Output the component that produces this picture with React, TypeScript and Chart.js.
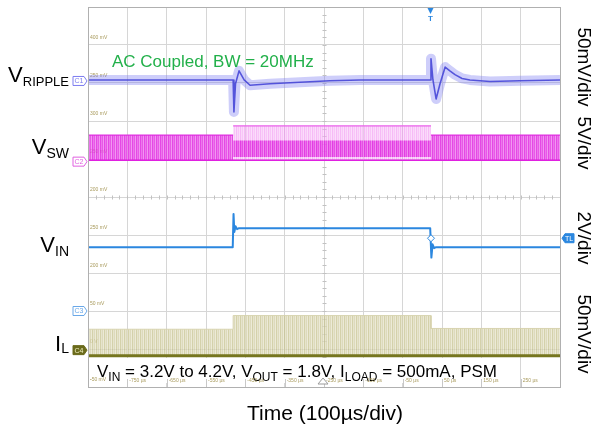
import React, { useEffect, useRef } from "react";
import { Chart, registerables } from "chart.js";

Chart.register(...registerables);

// ---------------- data ----------------
// time axis: 100 µs/div, 12 divisions
const timeGridUs = [-850, -750, -650, -550, -450, -350, -250, -150, -50, 50, 150, 250, 350];
const timeTickLabels = ["-750 µs", "-650 µs", "-550 µs", "-450 µs", "-350 µs", "-250 µs", "-150 µs", "-50 µs", "50 µs", "150 µs", "250 µs"];
// scope level read-outs, for divisions 9 .. 0
const levelTickLabels = ["400 mV", "250 mV", "300 mV", "250 mV", "200 mV", "250 mV", "200 mV", "50 mV", "0 V", "-50 mV"];

// V_RIPPLE (mV, AC coupled)
const rippleTimeUs = [-850, -489, -481, -479, -475, -466, -453, -438, -387, -311, -235, -158, 20, 22, 27, 35, 45, 58, 70, 83, 101, 121, 172, 248, 350];
const rippleMv = [0, 0, 0, -42, -5, 12, 0, -7, -5, -3, -1, 0, 0, 28, 0, -25, -5, 17, 12, 7, 2, 0, -2, -1, 0];

// V_SW switching envelope (V)
const swTimeUs = [-850, -481, -481, 22, 22, 350];
const swHighV = [3.3, 3.3, 4.5, 4.5, 3.3, 3.3];
const swLowV = [0, 0, 0, 0, 0, 0];
// denser core of the switching band during the 4.2 V section
const swCoreTimeUs = [-481, 22];
const swCoreHighV = [2.6, 2.6];

// V_IN (V)
const vinTimeUs = [-850, -482, -480, -478, -475, -471, -466, 20, 23, 26, 30, 35, 350];
const vinV = [3.2, 3.2, 4.95, 4.0, 4.3, 4.15, 4.2, 4.2, 2.65, 3.35, 3.15, 3.2, 3.2];

// trigger level
const trigTimeUs = [22];
const trigLevelV = [3.67];

// I_L envelope (mV on probe)
const ilTimeUs = [-850, -481, -481, 22, 22, 350];
const ilPeakMv = [35, 35, 53, 53, 36, 36];
const ilFloorMv = [0, 0, 0, 0, 0, 0];

// ---------------- channel scaling (style) ----------------
const CH = {
  ripple: { zeroDiv: 8.08, perDiv: 50 },
  sw: { zeroDiv: 5.97, perDiv: 5 },
  vin: { zeroDiv: 2.08, perDiv: 2 },
  il: { zeroDiv: 0.82, perDiv: 50 },
};

const FONT = '"Liberation Sans", Arial, Helvetica, sans-serif';

type Ch = { zeroDiv: number; perDiv: number };
const pts = (ts: number[], vs: number[], ch: Ch, from = 0, to = ts.length - 1) => {
  const out: { x: number; y: number }[] = [];
  for (let i = from; i <= to; i++) out.push({ x: ts[i], y: ch.zeroDiv + vs[i] / ch.perDiv });
  return out;
};

function stripePattern(colors: string[]): CanvasPattern | string {
  const c = document.createElement("canvas");
  c.width = colors.length;
  c.height = 4;
  const g = c.getContext("2d");
  if (!g) return colors[0];
  colors.forEach((col, i) => {
    g.fillStyle = col;
    g.fillRect(i, 0, 1, 4);
  });
  return g.createPattern(c, "repeat") || colors[0];
}

type Part = [string, boolean];
function drawParts(ctx: CanvasRenderingContext2D, parts: Part[], x: number, y: number, mainPx: number, subPx: number, subDy: number, align: "left" | "right") {
  const fm = `${mainPx}px ${FONT}`;
  const fs = `${subPx}px ${FONT}`;
  let total = 0;
  for (const [t, s] of parts) {
    ctx.font = s ? fs : fm;
    total += ctx.measureText(t).width;
  }
  let cx = align === "right" ? x - total : x;
  ctx.textAlign = "left";
  ctx.textBaseline = "alphabetic";
  for (const [t, s] of parts) {
    ctx.font = s ? fs : fm;
    ctx.fillText(t, cx, s ? y + subDy : y);
    cx += ctx.measureText(t).width;
  }
}

function tag(ctx: CanvasRenderingContext2D, x0: number, yc: number, w: number, h: number, pointRight: boolean, stroke: string, fill: string, text: string, textColor: string) {
  ctx.beginPath();
  if (pointRight) {
    ctx.moveTo(x0, yc - h / 2);
    ctx.lineTo(x0 + w - 3, yc - h / 2);
    ctx.lineTo(x0 + w, yc);
    ctx.lineTo(x0 + w - 3, yc + h / 2);
    ctx.lineTo(x0, yc + h / 2);
  } else {
    ctx.moveTo(x0 + w, yc - h / 2);
    ctx.lineTo(x0 + 3, yc - h / 2);
    ctx.lineTo(x0, yc);
    ctx.lineTo(x0 + 3, yc + h / 2);
    ctx.lineTo(x0 + w, yc + h / 2);
  }
  ctx.closePath();
  ctx.fillStyle = fill;
  ctx.fill();
  ctx.strokeStyle = stroke;
  ctx.lineWidth = 1;
  ctx.stroke();
  ctx.fillStyle = textColor;
  ctx.font = `7px ${FONT}`;
  ctx.textAlign = "center";
  ctx.textBaseline = "middle";
  ctx.fillText(text, x0 + w / 2 - (pointRight ? 1 : -1), yc + 0.5);
}

const scopeDeco = {
  id: "scopeDeco",
  beforeDatasetsDraw(chart: any) {
    const { ctx, chartArea: a, scales } = chart;
    const x = scales.x;
    const y = scales.y;
    ctx.save();
    // minor ticks on the centre lines
    ctx.strokeStyle = "#c2c2c2";
    ctx.lineWidth = 1;
    const cy = Math.round(y.getPixelForValue(5)) + 0.5;
    const cx = Math.round(x.getPixelForValue(-250)) + 0.5;
    for (let t = -850; t <= 350; t += 20) {
      const px = Math.round(x.getPixelForValue(t)) + 0.5;
      ctx.beginPath();
      ctx.moveTo(px, cy - 2);
      ctx.lineTo(px, cy + 2);
      ctx.stroke();
    }
    for (let k = 0; k <= 50; k++) {
      const py = Math.round(y.getPixelForValue(k / 5)) + 0.5;
      ctx.beginPath();
      ctx.moveTo(cx - 2, py);
      ctx.lineTo(cx + 2, py);
      ctx.stroke();
    }
    // tiny level read-outs
    ctx.font = `5px ${FONT}`;
    ctx.fillStyle = "#a89a5c";
    ctx.textAlign = "left";
    ctx.textBaseline = "middle";
    levelTickLabels.forEach((s, i) => {
      ctx.fillText(s, a.left + 2, y.getPixelForValue(9 - i + 0.2));
    });
    ctx.restore();
  },
  afterDatasetsDraw(chart: any) {
    const { ctx, chartArea: a, scales } = chart;
    const x = scales.x;
    const y = scales.y;
    ctx.save();
    // plot frame
    ctx.strokeStyle = "#b0b0b0";
    ctx.lineWidth = 1;
    ctx.strokeRect(Math.round(a.left) + 0.5, Math.round(a.top) + 0.5, Math.round(a.right - a.left), Math.round(a.bottom - a.top));

    // AC coupled note
    ctx.fillStyle = "#22b04a";
    ctx.font = `17px ${FONT}`;
    ctx.textAlign = "left";
    ctx.textBaseline = "alphabetic";
    ctx.fillText("AC Coupled, BW = 20MHz", 112, 67);

    // conditions note with white backing
    ctx.fillStyle = "#ffffff";
    ctx.fillRect(92, 358, 410, 25);
    ctx.fillStyle = "#000000";
    drawParts(
      ctx,
      [
        ["V", false], ["IN", true], [" = 3.2V to 4.2V, V", false], ["OUT", true],
        [" = 1.8V, I", false], ["LOAD", true], [" = 500mA, PSM", false],
      ],
      97, 377, 17, 12, 4, "left"
    );

    // tiny time read-outs
    ctx.font = `5px ${FONT}`;
    ctx.fillStyle = "#a89a5c";
    ctx.textAlign = "left";
    ctx.textBaseline = "middle";
    levelTickLabels.slice(-1).forEach((s) => ctx.fillText(s, a.left + 2, y.getPixelForValue(0.2)));
    timeTickLabels.forEach((s, i) => {
      ctx.fillText(s, x.getPixelForValue(timeGridUs[i + 1]) + 2, a.bottom - 6);
    });
    ctx.strokeStyle = "#c8c8c8";
    timeTickLabels.forEach((_, i) => {
      const px = Math.round(x.getPixelForValue(timeGridUs[i + 1])) + 0.5;
      ctx.beginPath();
      ctx.moveTo(px, a.bottom - 8);
      ctx.lineTo(px, a.bottom);
      ctx.stroke();
    });

    // time reference marker (bottom centre)
    ctx.strokeStyle = "#9a9a9a";
    ctx.fillStyle = "#ffffff";
    const tx = x.getPixelForValue(-250) - 1;
    ctx.beginPath();
    ctx.moveTo(tx - 5, a.bottom - 3);
    ctx.lineTo(tx, a.bottom - 9);
    ctx.lineTo(tx + 5, a.bottom - 3);
    ctx.closePath();
    ctx.fill();
    ctx.stroke();

    // trigger position marker (top)
    const trx = x.getPixelForValue(trigTimeUs[0]) - 0.5;
    ctx.fillStyle = "#2b87df";
    ctx.beginPath();
    ctx.moveTo(trx - 3, a.top + 1);
    ctx.lineTo(trx + 3, a.top + 1);
    ctx.lineTo(trx, a.top + 7);
    ctx.closePath();
    ctx.fill();
    ctx.font = `bold 8px ${FONT}`;
    ctx.textAlign = "center";
    ctx.textBaseline = "middle";
    ctx.fillText("T", trx, a.top + 12);

    // channel tags (left)
    const trigPy = y.getPixelForValue(CH.vin.zeroDiv + trigLevelV[0] / CH.vin.perDiv);
    tag(ctx, 73, y.getPixelForValue(CH.ripple.zeroDiv) + 1, 14, 9, true, "#7c7cf0", "#ffffff", "C1", "#7c7cf0");
    tag(ctx, 73, y.getPixelForValue(CH.sw.zeroDiv) + 1.5, 14, 9, true, "#e060e0", "#ffffff", "C2", "#e060e0");
    tag(ctx, 73, y.getPixelForValue(2.0), 14, 9, true, "#6aa8e8", "#ffffff", "C3", "#6aa8e8");
    tag(ctx, 73, y.getPixelForValue(0.97), 14, 9, true, "#6b6b1c", "#6b6b1c", "C4", "#f0f0c0");
    // trigger level tag (right)
    tag(ctx, 562, trigPy, 12, 9, false, "#2b87df", "#2b87df", "TL", "#ffffff");

    // left trace names
    ctx.fillStyle = "#000000";
    drawParts(ctx, [["V", false], ["RIPPLE", true]], 69, 82, 22, 13, 4, "right");
    drawParts(ctx, [["V", false], ["SW", true]], 69, 154, 22, 14, 4, "right");
    drawParts(ctx, [["V", false], ["IN", true]], 69, 252, 22, 14, 4, "right");
    drawParts(ctx, [["I", false], ["L", true]], 69, 351, 22, 14, 2, "right");

    // right vertical scale names
    ctx.font = `19px ${FONT}`;
    ctx.textAlign = "center";
    ctx.textBaseline = "alphabetic";
    const rightLabels: [string, number][] = [["50mV/div", 67], ["5V/div", 143], ["2V/div", 238], ["50mV/div", 334]];
    for (const [s, cyy] of rightLabels) {
      ctx.save();
      ctx.translate(578, cyy);
      ctx.rotate(Math.PI / 2);
      ctx.fillText(s, 0, 0);
      ctx.restore();
    }

    // bottom title
    ctx.font = `21px ${FONT}`;
    ctx.textAlign = "center";
    ctx.fillText("Time (100µs/div)", 325, 420);

    ctx.restore();
  },
};

export default function App() {
  const ref = useRef<HTMLCanvasElement | null>(null);

  useEffect(() => {
    document.body.style.margin = "0";
    const canvas = ref.current;
    if (!canvas) return;

    const swDense = stripePattern(["rgba(224,40,224,0.85)", "rgba(232,80,232,0.78)", "rgba(226,52,226,0.82)", "rgba(236,110,236,0.72)"]);
    const swLight = stripePattern(["rgba(240,140,240,0.6)", "rgba(246,175,246,0.5)", "rgba(242,150,242,0.55)", "rgba(247,190,247,0.5)"]);
    const ilFill = stripePattern(["rgba(198,194,142,0.75)", "rgba(222,219,188,0.75)", "rgba(210,206,166,0.75)", "rgba(228,225,198,0.7)"]);

    const line = { pointRadius: 0, tension: 0, borderJoinStyle: "round" as const, fill: false };

    const chart = new Chart(canvas, {
      type: "line",
      data: {
        datasets: [
          {
            ...line,
            data: pts(trigTimeUs, trigLevelV, CH.vin),
            showLine: false,
            pointRadius: 3.5,
            pointStyle: "rectRot",
            pointBorderColor: "#2b87df",
            pointBackgroundColor: "#ffffff",
            pointBorderWidth: 1,
            order: 0,
          },
          { ...line, data: pts(vinTimeUs, vinV, CH.vin), borderColor: "#2b87df", borderWidth: 2, order: 1 },
          { ...line, data: pts(rippleTimeUs, rippleMv, CH.ripple), borderColor: "rgba(64,64,214,0.85)", borderWidth: 1.6, order: 2 },
          { ...line, data: pts(rippleTimeUs, rippleMv, CH.ripple), borderColor: "rgba(120,120,240,0.36)", borderWidth: 10, order: 3 },
          { ...line, data: pts(swTimeUs, swLowV, CH.sw), borderColor: "#e020e0", borderWidth: 1.5, order: 4 },
          { ...line, data: pts(swCoreTimeUs, swCoreHighV, CH.sw), borderWidth: 0, borderColor: "rgba(0,0,0,0)", fill: { value: CH.sw.zeroDiv + 0.4 / CH.sw.perDiv }, backgroundColor: swDense as any, order: 4.5 },
          { ...line, data: pts(swTimeUs, swHighV, CH.sw, 0, 1), borderColor: "#e030e0", borderWidth: 1.2, fill: { value: CH.sw.zeroDiv }, backgroundColor: swDense as any, order: 5 },
          { ...line, data: pts(swTimeUs, swHighV, CH.sw, 2, 3), borderColor: "#ea60ea", borderWidth: 1.2, fill: { value: CH.sw.zeroDiv }, backgroundColor: swLight as any, order: 5 },
          { ...line, data: pts(swTimeUs, swHighV, CH.sw, 4, 5), borderColor: "#e030e0", borderWidth: 1.2, fill: { value: CH.sw.zeroDiv }, backgroundColor: swDense as any, order: 5 },
          { ...line, data: pts(ilTimeUs, ilFloorMv, CH.il), borderColor: "#76761e", borderWidth: 3, order: 6 },
          { ...line, data: pts(ilTimeUs, ilPeakMv, CH.il), borderColor: "rgba(214,210,172,0.9)", borderWidth: 1, fill: { value: CH.il.zeroDiv }, backgroundColor: ilFill as any, order: 7 },
        ],
      },
      options: {
        responsive: false,
        maintainAspectRatio: false,
        animation: false,
        events: [],
        layout: { padding: { left: 88, right: 33, top: 7, bottom: 45 } },
        plugins: { legend: { display: false }, tooltip: { enabled: false } },
        scales: {
          x: {
            type: "linear",
            min: -850,
            max: 350,
            afterBuildTicks: (s: any) => {
              s.ticks = timeGridUs.map((v) => ({ value: v }));
            },
            ticks: { display: false },
            grid: { color: "#d6d6d6", drawTicks: false, lineWidth: 1 },
            border: { display: false },
          },
          y: {
            type: "linear",
            min: 0,
            max: 10,
            ticks: { display: false, stepSize: 1 },
            grid: { color: "#d6d6d6", drawTicks: false, lineWidth: 1 },
            border: { display: false },
          },
        },
      },
      plugins: [scopeDeco],
    });

    return () => chart.destroy();
  }, []);

  return (
    <div style={{ position: "absolute", left: 0, top: 0, width: 593, height: 432, background: "#ffffff" }}>
      <canvas ref={ref} width={593} height={432} style={{ display: "block" }} />
    </div>
  );
}
